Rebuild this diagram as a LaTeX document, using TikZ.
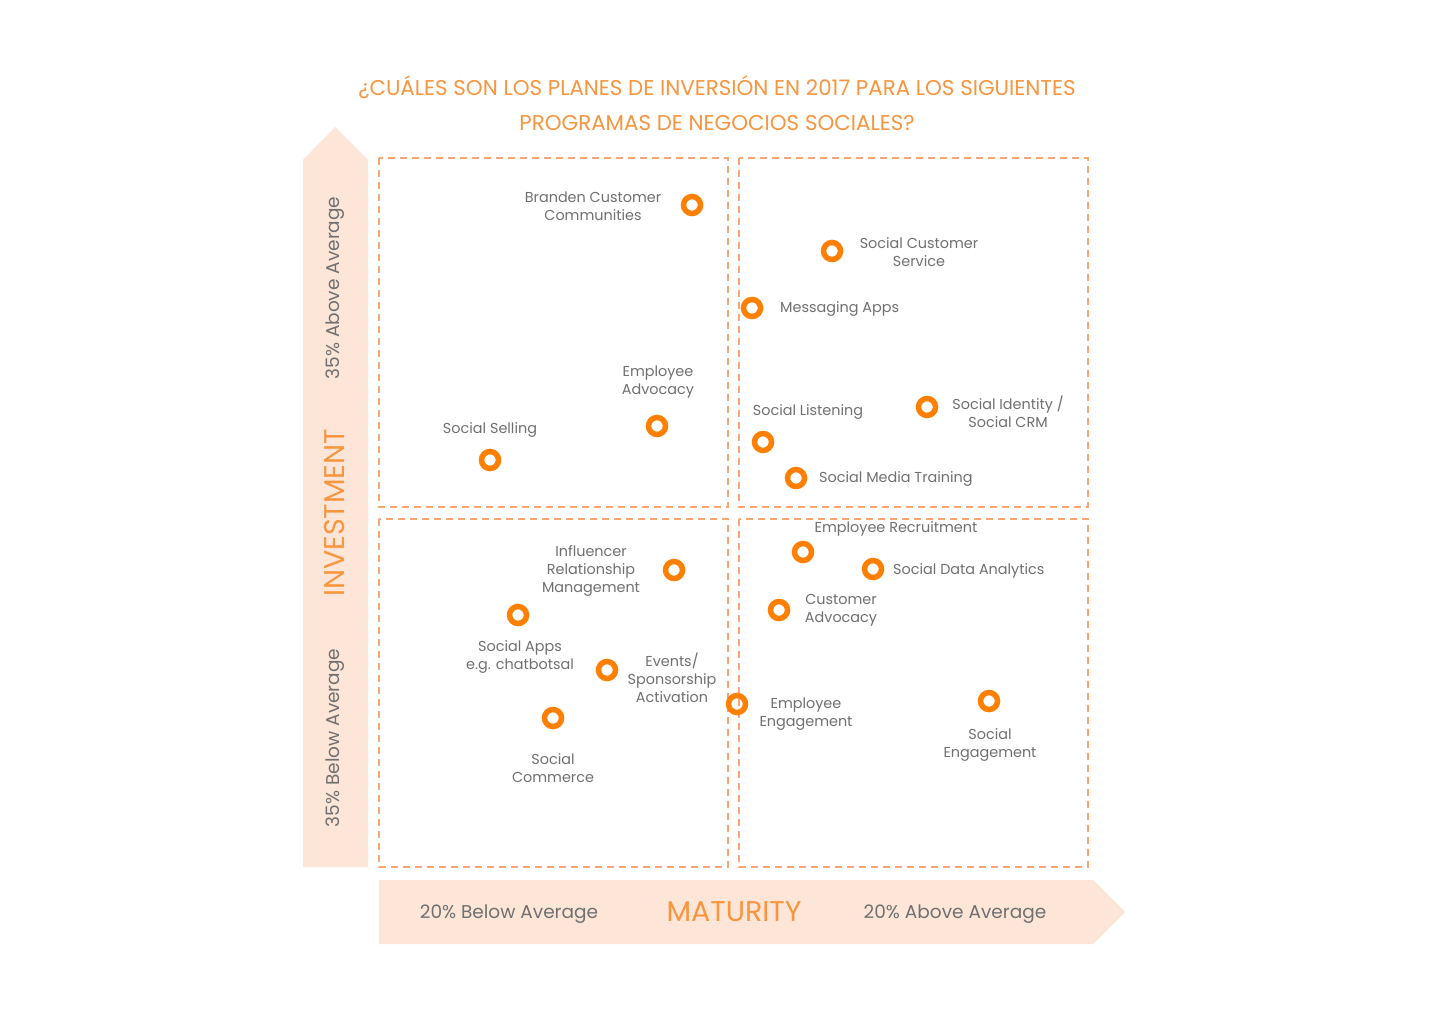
\documentclass[tikz,border=0pt]{standalone}
\usepackage{fontspec}
\setmainfont{Poppins}
\usepackage{xcolor}
\definecolor{RingOrange}{HTML}{FF7F00}
\definecolor{TitleOrange}{HTML}{F8953E}
\definecolor{DashOrange}{HTML}{F9A674}
\definecolor{Peach}{HTML}{FDE6D8}
\definecolor{LabelGray}{HTML}{707070}

\begin{document}
\begin{tikzpicture}[x=1pt,y=-1pt,
    quad/.style={draw=DashOrange, line width=1.6pt, dash pattern=on 7pt off 5pt},
    ring/.style={circle, draw=RingOrange, line width=5.5pt, minimum size=17pt, inner sep=0pt},
    lbl/.style={text=LabelGray, font=\fontsize{14.4}{18}\selectfont, align=center, inner sep=0pt, yshift=-2pt},
    axis/.style={text=LabelGray, font=\fontsize{18.5}{20}\selectfont, inner sep=0pt},
    axtitle/.style={text=TitleOrange, font=\fontsize{28.5}{30}\selectfont, inner sep=0pt}]
\useasboundingbox (0,0) rectangle (1429,1019);
\fill[white] (0,0) rectangle (1429,1019);
% title
\node[text=TitleOrange, font=\fontsize{21.4}{35.5}\selectfont, align=center] (title) at (717,103)
  {¿CUÁLES SON LOS PLANES DE INVERSIÓN EN 2017 PARA LOS SIGUIENTES\\PROGRAMAS DE NEGOCIOS SOCIALES?};
% axis arrows
\fill[Peach] (303,867)--(303,160)--(335,127)--(368,160)--(368,867)--cycle;
\fill[Peach] (379,880)--(1093,880)--(1125,912)--(1093,944)--(379,944)--cycle;
\node[axis, rotate=90] (invHi) at (335,288) {35\% Above Average};
\node[axtitle, rotate=90] (inv) at (335,513) {INVESTMENT};
\node[axis, rotate=90] (invLo) at (335,738) {35\% Below Average};
\node[axis] (matLo) at (509,914) {20\% Below Average};
\node[axtitle] (mat) at (734,912) {MATURITY};
\node[axis] (matHi) at (955,914) {20\% Above Average};
% quadrants
\draw[quad] (379,158) rectangle (728,507);
\draw[quad] (739,158) rectangle (1088,507);
\draw[quad] (379,519) rectangle (728,867);
\draw[quad] (739,519) rectangle (1088,867);
% top left
\node[ring] (brand) at (692,205) {};
\node[lbl] (brandL) at (593,204) {Branden Customer\\Communities};
\node[ring] (empAdv) at (657,426) {};
\node[lbl] (empAdvL) at (658,380) {Employee\\Advocacy};
\node[ring] (selling) at (490,460) {};
\node[lbl] (sellingL) at (490,428) {Social Selling};
% top right
\node[ring] (service) at (832,251) {};
\node[lbl] (serviceL) at (919,250) {Social Customer\\Service};
\node[ring] (msg) at (752,308) {};
\node[lbl, anchor=west] (msgL) at (780,307) {Messaging Apps};
\node[ring] (listen) at (763,442) {};
\node[lbl] (listenL) at (808,410) {Social Listening};
\node[ring] (ident) at (927,407) {};
\node[lbl] (identL) at (1008,410) {Social Identity /\\Social CRM};
\node[ring] (train) at (796,478) {};
\node[lbl, anchor=west] (trainL) at (819,477) {Social Media Training};
% bottom left
\node[ring] (infl) at (674,570) {};
\node[lbl] (inflL) at (591,569) {Influencer\\Relationship\\Management};
\node[ring] (apps) at (518,615) {};
\node[lbl] (appsL) at (520,655) {Social Apps\\e.g. chatbotsal};
\node[ring] (events) at (607,670) {};
\node[lbl] (eventsL) at (672,676) {Events/\\Sponsorship\\Activation};
\node[ring] (commerce) at (553,718) {};
\node[lbl] (commerceL) at (553,766) {Social\\Commerce};
% bottom right
\node[ring] (recruit) at (803,552) {};
\node[lbl] (recruitL) at (896,527) {Employee Recruitment};
\node[ring] (data) at (873,569) {};
\node[lbl, anchor=west] (dataL) at (893,569) {Social Data Analytics};
\node[ring] (custAdv) at (779,610) {};
\node[lbl] (custAdvL) at (841,608) {Customer\\Advocacy};
\node[ring] (empEng) at (737,704) {};
\node[lbl] (empEngL) at (806,712) {Employee\\Engagement};
\node[ring] (socEng) at (989,701) {};
\node[lbl] (socEngL) at (990,743) {Social\\Engagement};
\end{tikzpicture}
\end{document}
